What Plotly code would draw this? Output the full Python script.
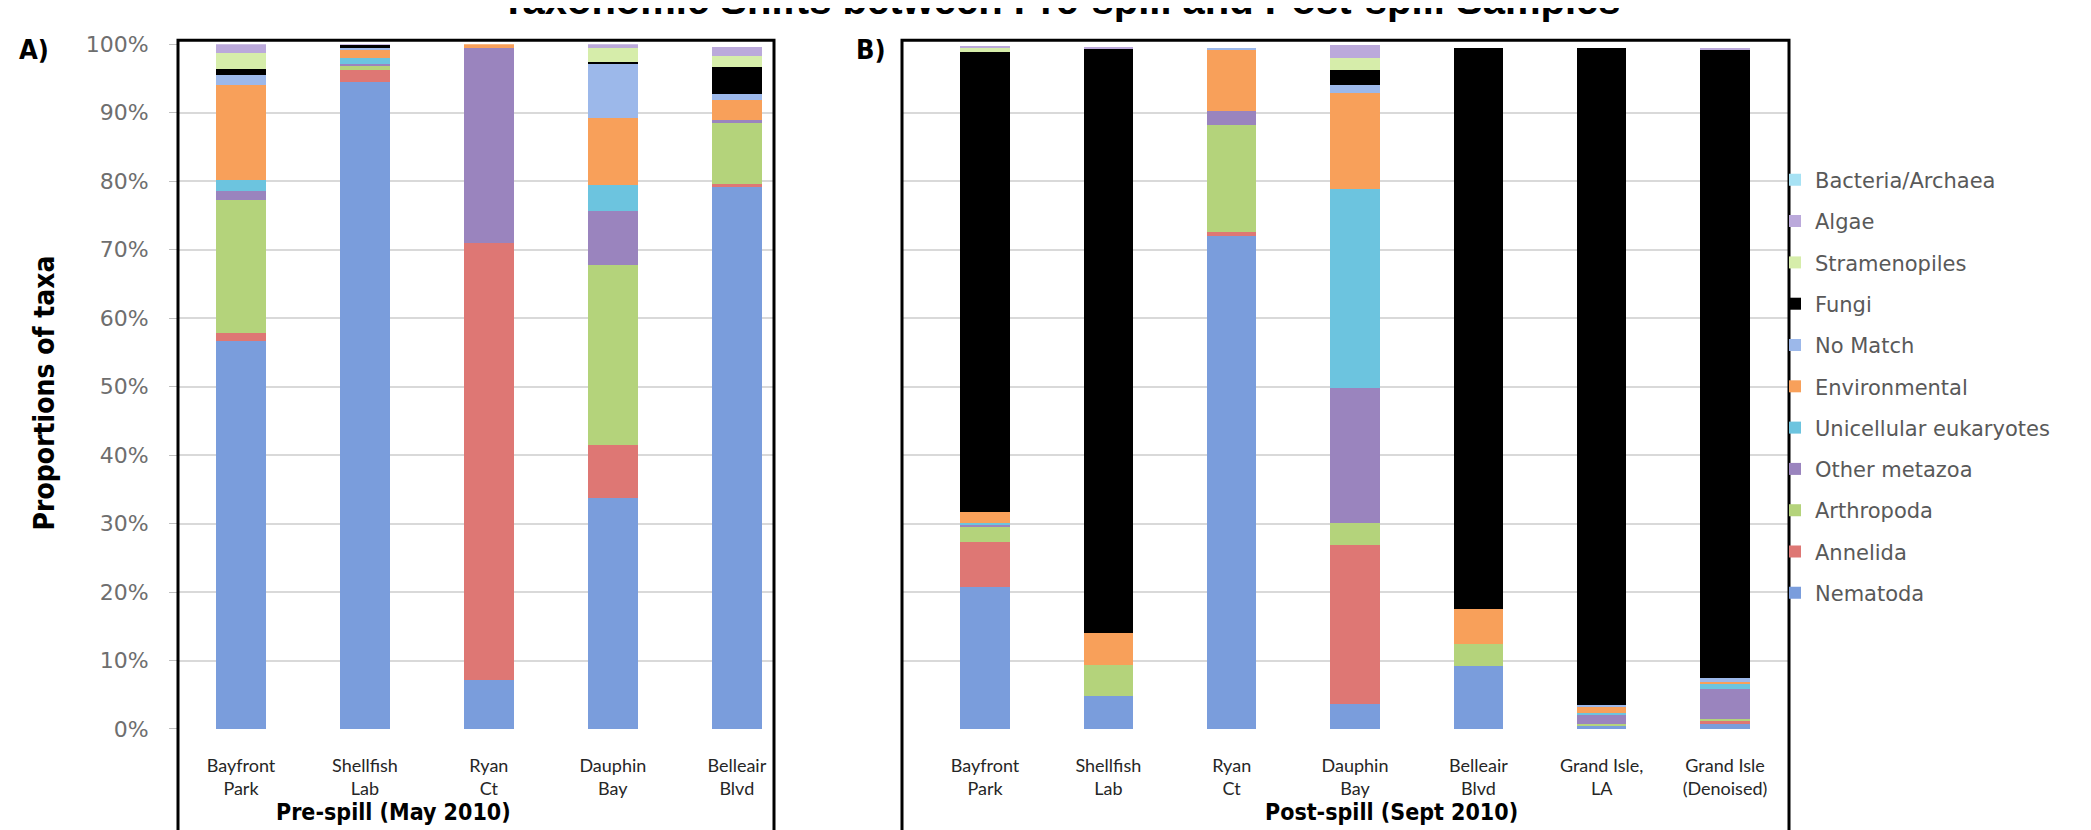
import plotly.graph_objects as go

W, H = 2091, 830

# ---------------- data ----------------
taxa = ["Nematoda", "Annelida", "Arthropoda", "Other metazoa", "Unicellular eukaryotes",
        "Environmental", "No Match", "Fungi", "Stramenopiles", "Algae", "Bacteria/Archaea"]

sites_pre = ["Bayfront<br>Park", "Shellfish<br>Lab", "Ryan<br>Ct", "Dauphin<br>Bay", "Belleair<br>Blvd"]
sites_post = ["Bayfront<br>Park", "Shellfish<br>Lab", "Ryan<br>Ct", "Dauphin<br>Bay", "Belleair<br>Blvd",
              "Grand Isle,<br>LA", "Grand Isle<br>(Denoised)"]

# Pre-spill (May 2010), % of taxa
nematoda_pre = [56.6, 94.5, 7.2, 33.8, 79.2]
annelida_pre = [1.2, 1.7, 63.8, 7.7, 0.4]
arthropoda_pre = [19.4, 0.7, 0.0, 26.2, 8.9]
metazoa_pre = [1.4, 0.2, 28.5, 7.9, 0.5]
unicellular_pre = [1.6, 0.9, 0.0, 3.8, 0.0]
environmental_pre = [13.8, 1.1, 0.5, 9.9, 2.8]
nomatch_pre = [1.5, 0.3, 0.0, 7.8, 0.9]
fungi_pre = [0.9, 0.5, 0.0, 0.3, 4.0]
stramenopiles_pre = [2.3, 0.0, 0.0, 2.0, 1.6]
algae_pre = [1.3, 0.1, 0.0, 0.6, 1.3]
bacteria_pre = [0.0, 0.0, 0.0, 0.0, 0.0]

# Post-spill (Sept 2010), % of taxa
nematoda_post = [20.8, 4.8, 72.0, 3.6, 9.2, 0.5, 0.8]
annelida_post = [6.5, 0.0, 0.6, 23.2, 0.0, 0.0, 0.4]
arthropoda_post = [2.2, 4.6, 15.6, 3.3, 3.2, 0.3, 0.3]
metazoa_post = [0.3, 0.0, 2.0, 19.7, 0.0, 1.2, 4.3]
unicellular_post = [0.3, 0.0, 0.0, 29.1, 0.0, 0.3, 0.8]
environmental_post = [1.6, 4.6, 9.0, 14.0, 5.1, 1.0, 0.2]
nomatch_post = [0.0, 0.0, 0.3, 1.2, 0.0, 0.2, 0.6]
fungi_post = [67.1, 85.3, 0.0, 2.1, 82.0, 96.0, 91.8]
stramenopiles_post = [0.6, 0.0, 0.0, 1.8, 0.0, 0.0, 0.0]
algae_post = [0.3, 0.2, 0.0, 1.9, 0.0, 0.0, 0.3]
bacteria_post = [0.0, 0.0, 0.0, 0.0, 0.0, 0.0, 0.0]

colors = ["#7A9DDC", "#DE7774", "#B4D37B", "#9A84BE", "#6CC4DF",
          "#F8A05A", "#9CB8EA", "#000000", "#D6EDAA", "#BBA9DB", "#A7E2F4"]

pre_series = [nematoda_pre, annelida_pre, arthropoda_pre, metazoa_pre, unicellular_pre,
              environmental_pre, nomatch_pre, fungi_pre, stramenopiles_pre, algae_pre, bacteria_pre]
post_series = [nematoda_post, annelida_post, arthropoda_post, metazoa_post, unicellular_post,
               environmental_post, nomatch_post, fungi_post, stramenopiles_post, algae_post, bacteria_post]

# ---------------- figure ----------------
fig = go.Figure()
n = len(taxa)
for i, name in enumerate(taxa):
    fig.add_trace(go.Bar(x=sites_pre, y=pre_series[i], name=name, legendgroup=name,
                         legendrank=100 + (n - i) * 10,
                         marker=dict(color=colors[i], line=dict(width=0)), width=0.4,
                         xaxis="x", yaxis="y", showlegend=True))
    fig.add_trace(go.Bar(x=sites_post, y=post_series[i], name=name, legendgroup=name,
                         legendrank=100 + (n - i) * 10,
                         marker=dict(color=colors[i], line=dict(width=0)), width=0.4,
                         xaxis="x2", yaxis="y2", showlegend=False))

def px(x):
    return x / W

def py(y):
    return (H - y) / H

FONT = "Lato, 'Open Sans', sans-serif"
WIDE = "'DejaVu Sans', sans-serif"
BOLD = "'Liberation Sans', Arial, sans-serif"
COND = "'DejaVu Sans Condensed', 'Liberation Sans', sans-serif"
grid = "#D9D9D9"

ydom = [py(731), py(25)]
yticks = list(range(0, 101, 10))

fig.update_layout(
    width=W, height=H, barmode="stack",
    margin=dict(l=0, r=0, t=0, b=0),
    paper_bgcolor="white", plot_bgcolor="white",
    font=dict(family=FONT, color="#404040"),
    xaxis=dict(domain=[px(170), px(766)], type="category", range=[-0.508, 4.3],
               showgrid=False, showline=False, zeroline=False, ticks="outside", ticklen=20,
               tickcolor="rgba(0,0,0,0)", tickfont=dict(size=18, color="#262626", family=FONT)),
    yaxis=dict(domain=ydom, range=[0, 100], tickvals=yticks, ticktext=[f"{v}%" for v in yticks],
               showgrid=True, gridcolor=grid, gridwidth=1.5, zeroline=False, showline=False,
               ticks="outside", ticklen=8, tickcolor="#BFBFBF", ticklabelstandoff=16,
               tickfont=dict(size=22, color="#6E6E6E", family=WIDE)),
    xaxis2=dict(domain=[px(894), px(1781)], type="category", range=[-0.673, 6.519], anchor="y2",
                showgrid=False, showline=False, zeroline=False, ticks="outside", ticklen=20,
                tickcolor="rgba(0,0,0,0)", tickfont=dict(size=18, color="#262626", family=FONT)),
    yaxis2=dict(domain=ydom, range=[0, 100], tickvals=yticks, anchor="x2", showticklabels=False,
                showgrid=True, gridcolor=grid, gridwidth=1.5, zeroline=False, showline=False),
    legend=dict(x=px(1767), y=py(144), xanchor="left", yanchor="top",
                traceorder="grouped", tracegroupgap=11,
                font=dict(size=21, color="#595959", family=WIDE), bgcolor="rgba(0,0,0,0)"),
    bargap=0.6,
)

# frames
for x0, x1 in [(170, 766), (894, 1781)]:
    fig.add_shape(type="rect", xref="paper", yref="paper", x0=px(x0), x1=px(x1),
                  y0=-0.05, y1=py(21), line=dict(color="black", width=3), layer="above")

# texts
fig.add_annotation(text="<b>Taxonomic Shifts between Pre-spill and Post-spill Samples</b>",
                   xref="paper", yref="paper", x=px(1053), y=py(4), xanchor="center", yanchor="bottom",
                   showarrow=False, font=dict(size=40, color="black", family=BOLD))
fig.add_annotation(text="<b>A)</b>", xref="paper", yref="paper", x=px(26), y=py(30),
                   xanchor="center", yanchor="middle",
                   showarrow=False, font=dict(size=27, color="black", family=COND))
fig.add_annotation(text="<b>B)</b>", xref="paper", yref="paper", x=px(863), y=py(30),
                   xanchor="center", yanchor="middle",
                   showarrow=False, font=dict(size=27, color="black", family=COND))
fig.add_annotation(text="<b>Proportions of taxa</b>", xref="paper", yref="paper", x=px(36), y=py(385),
                   xanchor="center", yanchor="middle",
                   textangle=-90, showarrow=False, font=dict(size=28, color="black", family=COND))
fig.add_annotation(text="<b>Pre-spill (May 2010)</b>", xref="paper", yref="paper", x=px(385), y=py(817),
                   xanchor="center", yanchor="middle",
                   showarrow=False, font=dict(size=23, color="black", family=COND))
fig.add_annotation(text="<b>Post-spill (Sept 2010)</b>", xref="paper", yref="paper", x=px(1383), y=py(817),
                   xanchor="center", yanchor="middle",
                   showarrow=False, font=dict(size=23, color="black", family=COND))

fig.write_html("out.html")
